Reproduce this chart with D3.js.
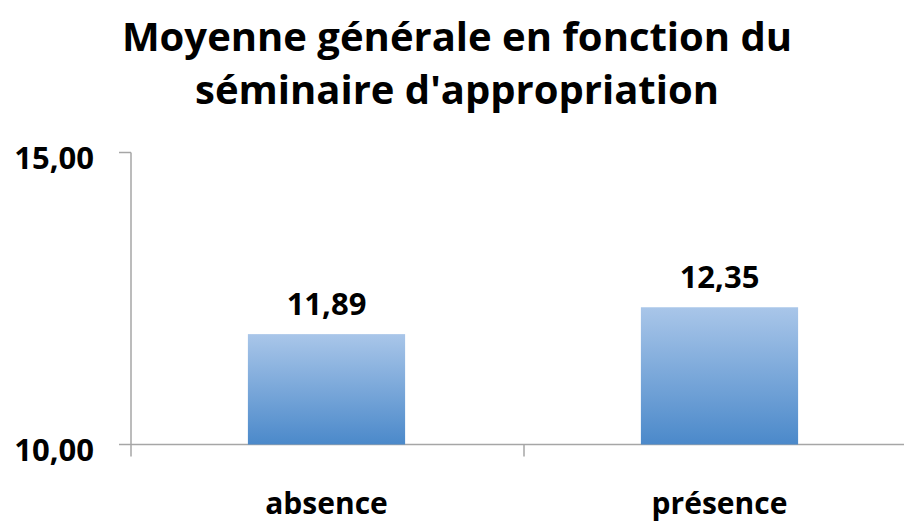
<!DOCTYPE html>
<html>
<head>
<meta charset="utf-8">
<script src="https://cdn.jsdelivr.net/npm/d3@7"></script>
<style>
  body { margin: 0; background: #fff; }
  text { font-family: "Open Sans", sans-serif; font-weight: 700; fill: #000; }
</style>
</head>
<body>
<svg id="chart" width="904" height="522"></svg>
<script>
const categories = ["absence", "présence"];
const values = [11.89, 12.35];
const yTicks = [10, 15];
const titleLines = ["Moyenne générale en fonction du", "séminaire d'appropriation"];

const svg = d3.select("#chart");
const plotLeft = 131, plotRight = 917, plotTop = 152.5, plotBottom = 444.5;
const fmt = v => d3.format(".2f")(v).replace(".", ",");

// gradient for bars
const grad = svg.append("defs").append("linearGradient")
  .attr("id", "barGrad").attr("x1", 0).attr("y1", 0).attr("x2", 0).attr("y2", 1);
grad.append("stop").attr("offset", "0%").attr("stop-color", "#a9c6e9");
grad.append("stop").attr("offset", "100%").attr("stop-color", "#4b89ca");

// title
svg.append("g").selectAll("text")
  .data(titleLines)
  .enter().append("text")
  .attr("x", 457)
  .attr("y", (d, i) => 51 + i * 53)
  .attr("text-anchor", "middle")
  .style("font-size", "40px")
  .text(d => d);

const x = d3.scaleBand().domain(categories).range([plotLeft, plotRight]).padding(0);
const y = d3.scaleLinear().domain([10, 15]).range([plotBottom, plotTop]);

// y axis
svg.append("line")
  .attr("x1", plotLeft).attr("x2", plotLeft).attr("y1", y(15)).attr("y2", y(10))
  .attr("stroke", "#a6a6a6").attr("stroke-width", 1.5);
svg.append("g").selectAll("line")
  .data(yTicks)
  .enter().append("line")
  .attr("x1", plotLeft - 12).attr("x2", plotLeft)
  .attr("y1", d => y(d)).attr("y2", d => y(d))
  .attr("stroke", "#a6a6a6").attr("stroke-width", 1.5);
svg.append("g").selectAll("text")
  .data(yTicks)
  .enter().append("text")
  .attr("x", 94)
  .attr("y", d => y(d) + 16)
  .attr("text-anchor", "end")
  .style("font-size", "31px")
  .text(d => fmt(d));

// x axis
svg.append("line")
  .attr("x1", plotLeft).attr("x2", 904).attr("y1", y(10)).attr("y2", y(10))
  .attr("stroke", "#a6a6a6").attr("stroke-width", 1.5);
svg.append("g").selectAll("line")
  .data(categories)
  .enter().append("line")
  .attr("x1", d => x(d)).attr("x2", d => x(d))
  .attr("y1", y(10)).attr("y2", y(10) + 12)
  .attr("stroke", "#a6a6a6").attr("stroke-width", 1.5);
svg.append("g").selectAll("text")
  .data(categories)
  .enter().append("text")
  .attr("x", d => x(d) + x.bandwidth() / 2 - 1)
  .attr("y", 514)
  .attr("text-anchor", "middle")
  .style("font-size", "30px")
  .text(d => d);

// bars
const barW = x.bandwidth() * 0.4;
const bars = categories.map((c, i) => ({ c, v: values[i] }));
svg.append("g").selectAll("rect")
  .data(bars)
  .enter().append("rect")
  .attr("x", d => x(d.c) + (x.bandwidth() - barW) / 2 - 1)
  .attr("y", d => y(d.v))
  .attr("width", barW)
  .attr("height", d => y(10) - y(d.v))
  .attr("fill", "url(#barGrad)");

svg.append("g").selectAll("text")
  .data(bars)
  .enter().append("text")
  .attr("x", d => x(d.c) + x.bandwidth() / 2 - 1)
  .attr("y", d => y(d.v) - 19)
  .attr("text-anchor", "middle")
  .style("font-size", "31px")
  .text(d => fmt(d.v));
</script>
</body>
</html>
